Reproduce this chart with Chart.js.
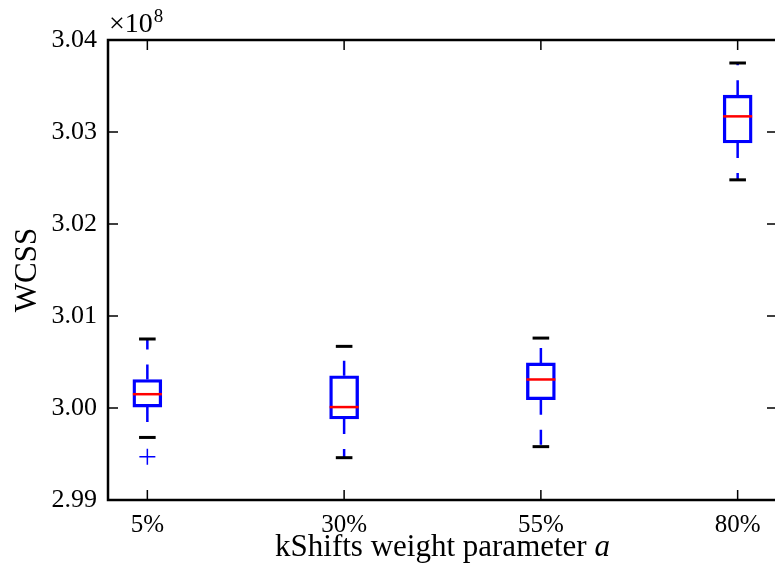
<!DOCTYPE html>
<html lang="en">
<head>
    <meta charset="UTF-8">
    <title>kShifts WCSS boxplot</title>
    <script src="https://cdn.jsdelivr.net/npm/chart.js"></script>
    <style>
        html, body { margin: 0; padding: 0; background: #fff; overflow: hidden; }
        #boxChart { display: block; }
    </style>
</head>
<body>
    <!-- 2px wider than the window: the right spine sits just outside the view, as in the original -->
    <canvas id="boxChart" width="777" height="574"></canvas>

    <script>
        // values in units of 1e8
        const categories = ['5%', '30%', '55%', '80%'];
        const positions = [1, 2, 3, 4];
        const q1 = [3.0001, 2.9988, 3.0009, 3.0288];
        const median = [3.0015, 3.0001, 3.0031, 3.0317];
        const q3 = [3.0031, 3.0035, 3.0049, 3.0340];
        const capLow = [2.9968, 2.9946, 2.9958, 3.0248];
        const capHigh = [3.0075, 3.0067, 3.0076, 3.0375];
        const fliers = [[2.9947], [], [], []];
        const yTicks = [2.99, 3.00, 3.01, 3.02, 3.03, 3.04];

        const SERIF = "'Liberation Serif', 'Times New Roman', serif";
        Chart.defaults.font.family = SERIF;
        Chart.defaults.color = '#000';

        // whiskers: from box edge out to the cap, gaps between pieces
        const whiskerPts = [];
        positions.forEach((p, i) => {
            whiskerPts.push({ x: p, y: q3[i] }, { x: p, y: capHigh[i] }, { x: p, y: null });
            whiskerPts.push({ x: p, y: q1[i] }, { x: p, y: capLow[i] }, { x: p, y: null });
        });
        const capPts = [];
        positions.forEach((p, i) => {
            capPts.push({ x: p, y: capLow[i] }, { x: p, y: capHigh[i] });
        });
        const flierPts = [];
        positions.forEach((p, i) => fliers[i].forEach(v => flierPts.push({ x: p, y: v })));

        // inward ticks, spines, offset text and x label
        const framePlugin = {
            id: 'frame',
            afterDraw(chart) {
                const { ctx, chartArea: a, scales: { x, y } } = chart;
                ctx.save();
                ctx.strokeStyle = '#000';
                ctx.lineWidth = 1.5;
                ctx.beginPath();
                x.ticks.forEach(t => {
                    const px = x.getPixelForValue(t.value);
                    ctx.moveTo(px, a.bottom); ctx.lineTo(px, a.bottom - 10);
                    ctx.moveTo(px, a.top); ctx.lineTo(px, a.top + 10);
                });
                y.ticks.forEach(t => {
                    const py = y.getPixelForValue(t.value);
                    ctx.moveTo(a.left, py); ctx.lineTo(a.left + 10, py);
                    ctx.moveTo(a.right, py); ctx.lineTo(a.right - 10, py);
                });
                ctx.stroke();
                ctx.lineWidth = 2.5;
                ctx.strokeRect(a.left, a.top, a.right - a.left, a.bottom - a.top);

                ctx.fillStyle = '#000';
                ctx.textBaseline = 'alphabetic';
                ctx.textAlign = 'left';
                ctx.font = '28px ' + SERIF;
                ctx.fillText('\u00d710', a.left + 1, 32);
                const w = ctx.measureText('\u00d710').width;
                ctx.font = '19px ' + SERIF;
                ctx.fillText('8', a.left + 2 + w, 22);

                ctx.font = '31px ' + SERIF;
                const main = 'kShifts weight parameter ';
                const mw = ctx.measureText(main).width;
                ctx.font = 'italic 31px ' + SERIF;
                const iw = ctx.measureText('a').width;
                const sx = (a.left + a.right) / 2 - (mw + iw) / 2;
                ctx.font = '31px ' + SERIF;
                ctx.fillText(main, sx, 556);
                ctx.font = 'italic 31px ' + SERIF;
                ctx.fillText('a', sx + mw, 556);
                ctx.restore();
            }
        };

        new Chart(document.getElementById('boxChart'), {
            type: 'bar',
            data: {
                datasets: [{
                    label: 'box',
                    data: positions.map((p, i) => ({ x: p, y: [q1[i], q3[i]] })),
                    backgroundColor: 'rgba(0,0,0,0)',
                    borderColor: '#0000ff',
                    borderWidth: 2.7,
                    borderSkipped: false,
                    barThickness: 29,
                    order: 2
                }, {
                    type: 'line',
                    label: 'whiskers',
                    data: whiskerPts,
                    borderColor: '#0000ff',
                    borderWidth: 2.5,
                    borderDash: [15, 15],
                    pointRadius: 0,
                    spanGaps: false,
                    order: 3
                }, {
                    type: 'line',
                    label: 'caps',
                    data: capPts,
                    showLine: false,
                    pointStyle: 'line',
                    pointRadius: 8.3,
                    pointBorderColor: '#000',
                    pointBorderWidth: 3,
                    order: 1
                }, {
                    type: 'line',
                    label: 'median',
                    data: positions.map((p, i) => ({ x: p, y: median[i] })),
                    showLine: false,
                    pointStyle: 'line',
                    pointRadius: 14.5,
                    pointBorderColor: '#ff0000',
                    pointBorderWidth: 2.5,
                    order: 0
                }, {
                    type: 'line',
                    label: 'fliers',
                    data: flierPts,
                    showLine: false,
                    pointStyle: 'cross',
                    pointRadius: 8,
                    pointBorderColor: '#0000ff',
                    pointBorderWidth: 1.5,
                    order: 0
                }]
            },
            options: {
                responsive: false,
                animation: false,
                layout: { autoPadding: false, padding: { left: 0, top: 40, right: 0, bottom: 0 } },
                plugins: { legend: { display: false }, tooltip: { enabled: false } },
                scales: {
                    x: {
                        type: 'linear',
                        offset: false,
                        min: 0.8,
                        max: 4.2,
                        grid: { display: false, drawTicks: false, offset: false },
                        border: { display: false },
                        afterBuildTicks: s => { s.ticks = positions.map(v => ({ value: v })); },
                        afterFit: s => {
                            s.height = 74;
                            s.paddingLeft = 0;
                            s.paddingRight = 0;
                        },
                        ticks: {
                            padding: 10,
                            font: { size: 25 },
                            color: '#000',
                            callback: v => categories[positions.indexOf(v)]
                        }
                    },
                    y: {
                        min: 2.99,
                        max: 3.04,
                        grid: { display: false, drawTicks: false },
                        border: { display: false },
                        afterBuildTicks: s => { s.ticks = yTicks.map(v => ({ value: v })); },
                        afterFit: s => { s.width = 108; },
                        ticks: {
                            padding: 11,
                            font: { size: 26 },
                            color: '#000',
                            callback: v => v.toFixed(2)
                        },
                        title: {
                            display: true,
                            text: 'WCSS',
                            font: { size: 31 },
                            color: '#000',
                            padding: { top: 9, bottom: 0 }
                        }
                    }
                }
            },
            plugins: [framePlugin]
        });
    </script>
</body>
</html>
